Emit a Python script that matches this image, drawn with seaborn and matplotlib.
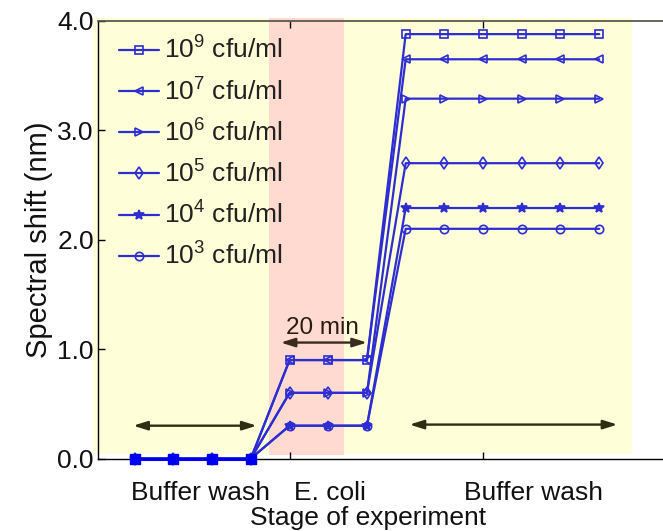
import matplotlib
matplotlib.use("Agg")
import matplotlib.pyplot as plt
import seaborn as sns
import pandas as pd
from matplotlib.patches import Rectangle

# ---- data ----
stage_index = list(range(1, 14))
labels = ["$10^9$ cfu/ml", "$10^7$ cfu/ml", "$10^6$ cfu/ml",
          "$10^5$ cfu/ml", "$10^4$ cfu/ml", "$10^3$ cfu/ml"]
s_1e9 = [0, 0, 0, 0, 0.90, 0.90, 0.90, 3.88, 3.88, 3.88, 3.88, 3.88, 3.88]
s_1e7 = [0, 0, 0, 0, 0.90, 0.90, 0.90, 3.65, 3.65, 3.65, 3.65, 3.65, 3.65]
s_1e6 = [0, 0, 0, 0, 0.60, 0.60, 0.60, 3.29, 3.29, 3.29, 3.29, 3.29, 3.29]
s_1e5 = [0, 0, 0, 0, 0.60, 0.60, 0.60, 2.70, 2.70, 2.70, 2.70, 2.70, 2.70]
s_1e4 = [0, 0, 0, 0, 0.30, 0.30, 0.30, 2.29, 2.29, 2.29, 2.29, 2.29, 2.29]
s_1e3 = [0, 0, 0, 0, 0.30, 0.30, 0.30, 2.10, 2.10, 2.10, 2.10, 2.10, 2.10]
series = [s_1e9, s_1e7, s_1e6, s_1e5, s_1e4, s_1e3]
markers = ["s", "<", ">", "d", "*", "o"]
filled = [False, False, False, False, True, False]
n_baseline = 4
yticks = [0, 1, 2, 3, 4]
ytick_labels = ["0.0", "1.0", "2.0", "3.0", "4.0"]
stage_names = ["Buffer wash", "E. coli", "Buffer wash"]

sns.set_theme(style="white")
plt.rcParams["font.family"] = ["Liberation Sans", "DejaVu Sans"]
plt.rcParams["mathtext.fontset"] = "custom"
plt.rcParams["mathtext.rm"] = "Liberation Sans"
plt.rcParams["mathtext.it"] = "Liberation Sans"

W, H = 663, 531
fig = plt.figure(figsize=(W / 100, H / 100), dpi=100)
x_left_px, x_right_px = 98, 676.6
y_top_px, y_bot_px = 21, 458.5
ax = fig.add_axes([x_left_px / W, (H - y_bot_px) / H,
                   (x_right_px - x_left_px) / W, (y_bot_px - y_top_px) / H])
ax.set_facecolor("white")
ax.set_xlim(0.05, 15)
ax.set_ylim(0, 4)

# background stage shading
ax.add_patch(Rectangle((-0.08, 0.045), 13.93, 3.98, facecolor="#FEFED8",
                       edgecolor="none", zorder=0, clip_on=False))
ax.add_patch(Rectangle((4.47, 0.03), 1.94, 4.0, facecolor="#FFDAD0",
                       edgecolor="none", zorder=0.5, clip_on=False))

line_color = "#2D2DD2"
rows = []
for lab, vals in zip(labels, series):
    for xi, v in zip(stage_index, vals):
        rows.append({"stage": xi, "shift": v, "conc": lab})
df = pd.DataFrame(rows)

for lab, mk, fl in zip(labels, markers, filled):
    sub = df[df["conc"] == lab]
    sns.lineplot(data=sub, x="stage", y="shift", ax=ax, color=line_color,
                 marker=mk, markersize=6 if mk != "*" else 7.5,
                 markerfacecolor=line_color if fl else "none",
                 markeredgecolor=line_color, markeredgewidth=1.2,
                 linewidth=1.6, label=lab, zorder=3, clip_on=False)

# overlapping baseline points (all series coincide) appear as solid blue blobs
base = df[df["stage"] <= n_baseline]
sns.lineplot(data=base[base["conc"] == labels[0]], x="stage", y="shift", ax=ax,
             color="#0000F0", marker="s", markersize=7, markeredgewidth=1.0,
             markeredgecolor="#0000F0", linewidth=2.2, zorder=4,
             clip_on=False, legend=False)

# arrows
arrow_col = "#2E2E14"
def darrow(x0, x1, y, col=arrow_col):
    ax.annotate("", xy=(x1, y), xytext=(x0, y),
                arrowprops=dict(arrowstyle="<|-|>,head_length=0.7,head_width=0.22",
                                color=col, lw=1.7, shrinkA=0, shrinkB=0), zorder=4)
darrow(0.96, 4.15, 0.30)
darrow(4.77, 7.0, 1.06, "#3A2A20")
darrow(8.1, 13.47, 0.31)
ax.text(5.86, 1.19, "20 min", ha="center", va="center", fontsize=17.5, color="#2A1A14")

# stage names under the axis
for xpos, name in zip([2.71, 6.04, 11.31], stage_names):
    ax.text(xpos, -0.315, name, ha="center", va="center", fontsize=19, color="#111111")
fig.text(368.5 / W, 1 - 518 / H, "Stage of experiment", ha="center", va="center",
         fontsize=19, color="#111111")

ax.set_xlabel("")
ax.set_ylabel("Spectral shift (nm)", fontsize=21, color="#111111", labelpad=3)
ax.set_xticks([5, 10])
ax.set_xticklabels(["", ""])
ax.set_yticks(yticks)
ax.set_yticklabels(ytick_labels, fontsize=19, color="#111111")
ax.tick_params(axis="both", direction="in", length=5, width=1, color="black",
               top=True, bottom=True, left=True, right=False, pad=3)
for side in ["left", "bottom"]:
    ax.spines[side].set_color("black")
    ax.spines[side].set_linewidth(1.0)
ax.spines["top"].set_color("#555544")
ax.spines["right"].set_visible(False)

handles, labs = ax.get_legend_handles_labels()
leg = ax.legend(handles[:6], labs[:6], loc="upper left", bbox_to_anchor=(0.009, 1.0),
                frameon=False, fontsize=19, handlelength=1.5, handletextpad=0.2,
                labelspacing=0.53, borderaxespad=0.2)
for t in leg.get_texts():
    t.set_color("#222222")

fig.savefig("out.png", dpi=100)
